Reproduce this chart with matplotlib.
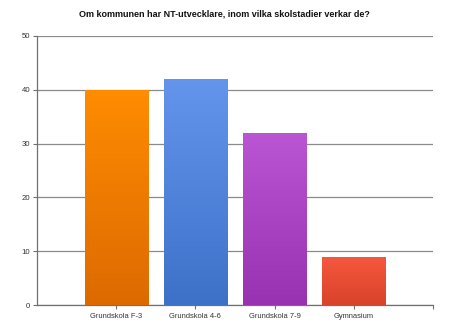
import numpy as np
import matplotlib
matplotlib.use("Agg")
import matplotlib.pyplot as plt
from matplotlib.colors import LinearSegmentedColormap

categories = ["Grundskola F-3", "Grundskola 4-6", "Grundskola 7-9", "Gymnasium"]
values = [40, 42, 32, 9]
top_colors = ["#ff8c00", "#6495ed", "#ba55d3", "#f6583e"]
bottom_colors = ["#dd6a00", "#3d71c8", "#9932b0", "#d8432a"]
yticks = [0, 10, 20, 30, 40, 50]

plt.rcParams['font.family'] = ['Liberation Sans', 'DejaVu Sans']

fig = plt.figure(figsize=(4.49, 3.33), dpi=100)
ax = fig.add_axes([37/449, 28/333, 396/449, 269/333])

x = np.arange(len(categories))
bars = ax.bar(x, values, width=0.8, color="none", zorder=3)
grad = np.linspace(1, 0, 256).reshape(-1, 1)
for b, tc, bc in zip(bars, top_colors, bottom_colors):
    cmap = LinearSegmentedColormap.from_list("g", [bc, tc])
    x0, y0 = b.get_x(), b.get_y()
    w, h = b.get_width(), b.get_height()
    im = ax.imshow(grad, cmap=cmap, aspect="auto", extent=[x0, x0 + w, y0, y0 + h],
                   zorder=3, interpolation="bilinear")
    im.set_clip_path(b)

ax.set_xlim(-1, len(categories))
ax.set_ylim(0, 50)
ax.set_yticks(yticks)
ax.set_xticks(list(x) + [len(categories)])
ax.set_xticklabels(categories + [""])
ax.yaxis.grid(True, color="#8a8a8a", linewidth=0.9, zorder=1)
ax.set_axisbelow(True)
for s in ["top", "right"]:
    ax.spines[s].set_visible(False)
for s in ["left", "bottom"]:
    ax.spines[s].set_color("#707070")
    ax.spines[s].set_linewidth(0.9)
ax.tick_params(axis="x", labelsize=5.4, colors="#707070", labelcolor="#333333",
               length=3, width=0.8, pad=2.5)
ax.tick_params(axis="y", labelsize=5.6, colors="#707070", labelcolor="#333333",
               length=3, width=0.8, pad=2)
fig.text(0.5, 1 - 14/333, "Om kommunen har NT-utvecklare, inom vilka skolstadier verkar de?",
         ha="center", va="center", fontsize=6.5, fontweight="bold", color="#111111")

fig.savefig("out.png", dpi=100)
